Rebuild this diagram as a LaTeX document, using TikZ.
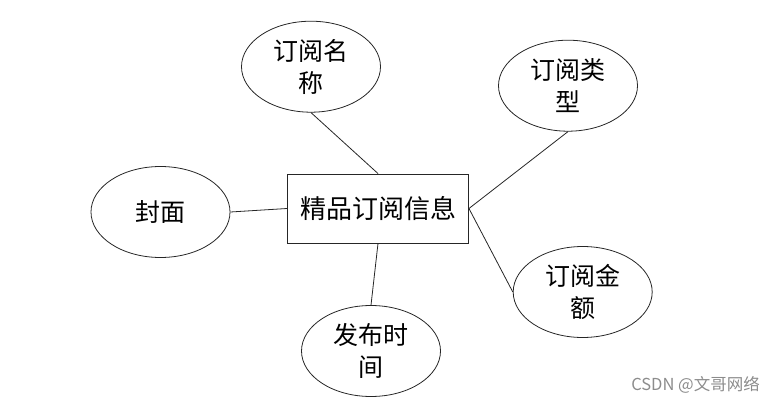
\documentclass[tikz,border=0pt]{standalone}
\usepackage{fontspec}
\newfontfamily\cjk{Noto Sans CJK SC}
\usetikzlibrary{shapes.geometric}
\begin{document}
\begin{tikzpicture}[x=1pt,y=-1pt,
  attr/.style={draw=black!85, line width=0.8pt, ellipse, minimum width=139pt, minimum height=91pt, inner sep=0pt, align=center, font=\cjk\fontsize{25}{32}\selectfont},
  entity/.style={draw=black!85, line width=0.9pt, rectangle, minimum width=181pt, minimum height=69pt, inner sep=0pt, font=\cjk\fontsize{26}{32}\selectfont},
  link/.style={draw=black!85, line width=0.8pt},
  wmtext/.style={text=black!45, font=\cjk\fontsize{16.5}{18}\selectfont, inner sep=0pt}]
\useasboundingbox (0,0) rectangle (779,404);
\node[entity] (info) at (378,208.5) {精品订阅信息};
\node[attr] (name) at (311,66.7) {订阅名\\称};
\node[attr] (type) at (568,85.7) {订阅类\\型};
\node[attr] (cover) at (160.5,212) {封面};
\node[attr] (amount) at (582.7,292) {订阅金\\额};
\node[attr] (time) at (371,351) {发布时\\间};
\draw[link] (name.south) -- (info.north);
\draw[link] (type.south) -- (info.east);
\draw[link] (cover.east) -- (info.west);
\draw[link] (info.east) -- (amount.west);
\draw[link] (info.south) -- (time.north);
\node[wmtext] (wm) at (695.5,385) {CSDN @文哥网络};
\end{tikzpicture}
\end{document}
